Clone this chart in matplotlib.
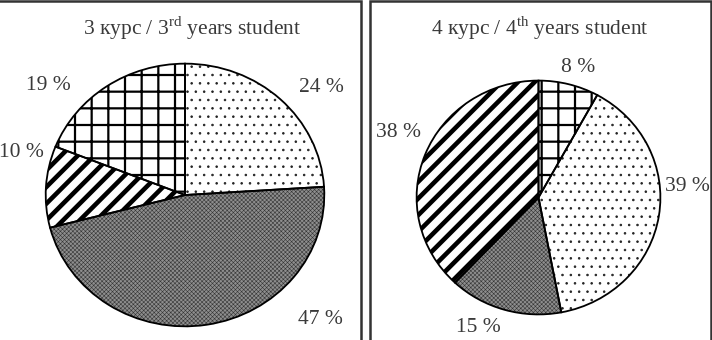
import matplotlib
matplotlib.use("Agg")
import matplotlib.pyplot as plt
from matplotlib.patches import Rectangle

plt.rcParams['font.family'] = ['Liberation Serif', 'DejaVu Serif']
plt.rcParams['mathtext.fontset'] = 'custom'
plt.rcParams['mathtext.rm'] = 'Liberation Serif'

# Data
titles = ["3 курс / 3$^{\\mathrm{rd}}$ years student", "4 курс / 4$^{\\mathrm{th}}$ years student"]
categories = ["dots", "gray", "diagonal", "grid"]
values_3 = [24, 47, 10, 19]
values_4 = [39, 15, 38, 8]
# order drawn clockwise from top
order_3 = ["dots", "gray", "diagonal", "grid"]
order_4 = ["grid", "dots", "gray", "diagonal"]
vals3 = dict(zip(categories, values_3))
vals4 = dict(zip(categories, values_4))

styles = {
    "dots": dict(facecolor="white", hatch="..", hcolor="#222222", hlw=0.6),
    "gray": dict(facecolor="#8e8e8e", hatch="xxxxxxxx", hcolor="#363636", hlw=0.4),
    "diagonal": dict(facecolor="white", hatch="//", hcolor="black", hlw=3.3),
    "grid": dict(facecolor="white", hatch="+", hcolor="black", hlw=1.6),
}

W, H = 712, 340
fig = plt.figure(figsize=(W / 100, H / 100), dpi=100)

def fx(x):
    return x / W

def fy(y):
    return 1 - y / H

text_color = "#3a3a3a"

# panel borders
for (x0, x1) in [(-5, 361), (370, 711)]:
    fig.patches.append(Rectangle((fx(x0), fy(360)), fx(x1) - fx(x0), fy(1) - fy(360),
                                 transform=fig.transFigure, fill=False,
                                 edgecolor="#333333", linewidth=1.8))

def draw_pie(left, top, right, bottom, order, vals):
    ax = fig.add_axes([fx(left), fy(bottom), fx(right) - fx(left), fy(top) - fy(bottom)])
    sizes = [vals[c] for c in order]
    # filled / hatched layer
    wedges, _ = ax.pie(sizes, startangle=90, counterclock=False,
                       wedgeprops=dict(linewidth=0))
    for w, c in zip(wedges, order):
        st = styles[c]
        w.set_facecolor(st["facecolor"])
        w.set_edgecolor(st["hcolor"])
        w.set_linewidth(0)
        w.set_hatch(st["hatch"])
        if hasattr(w, "set_hatch_linewidth"):
            w.set_hatch_linewidth(st["hlw"])
    # outline layer
    ax.pie(sizes, startangle=90, counterclock=False,
           wedgeprops=dict(fill=False, edgecolor="black", linewidth=1.3))
    ax.set_aspect("auto")
    ax.set_xlim(-1.005, 1.005)
    ax.set_ylim(-1.005, 1.005)
    ax.axis("off")
    return ax

draw_pie(45, 63, 325, 327, order_3, vals3)
draw_pie(416, 80, 661, 315, order_4, vals4)

fs = 15.5
fig.text(fx(192), fy(28), titles[0], ha="center", va="center", fontsize=fs, color=text_color)
fig.text(fx(540), fy(28), titles[1], ha="center", va="center", fontsize=fs, color=text_color)

label_pos_3 = {"dots": (321, 87), "gray": (320, 320), "diagonal": (21, 153), "grid": (48, 86)}
label_pos_4 = {"grid": (578, 68), "dots": (687, 186), "gray": (478, 327), "diagonal": (398, 133)}
for c in categories:
    x, y = label_pos_3[c]
    fig.text(fx(x), fy(y), f"{vals3[c]} %", ha="center", va="center", fontsize=fs, color=text_color)
    x, y = label_pos_4[c]
    fig.text(fx(x), fy(y), f"{vals4[c]} %", ha="center", va="center", fontsize=fs, color=text_color)

fig.savefig("out.png", dpi=100, facecolor="white")
